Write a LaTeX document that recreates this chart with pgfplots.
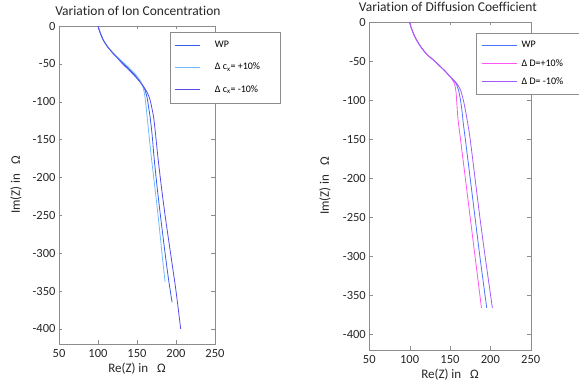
\documentclass[border=0pt]{standalone}
\usepackage{fontspec}
\setmainfont{Carlito}[Ligatures={NoCommon}]
\usepackage{pgfplots}
\pgfplotsset{compat=1.18}
\definecolor{lwp}{RGB}{55,95,235}
\definecolor{lp}{RGB}{115,185,255}
\definecolor{lm}{RGB}{85,75,235}
\definecolor{rwp}{RGB}{80,115,255}
\definecolor{rp}{RGB}{255,85,245}
\definecolor{rm}{RGB}{165,90,250}
\definecolor{axgray}{RGB}{140,140,140}
\definecolor{txt}{RGB}{38,38,38}
\pgfplotsset{
  mystyle/.style={
    scale only axis,
    xmin=50, xmax=250, ymin=-420, ymax=0,
    xtick={50,100,150,200,250},
    ytick={-400,-350,-300,-250,-200,-150,-100,-50,0},
    axis line style={draw=axgray},
    tick style={draw=axgray},
    major tick length=3.5pt,
    tick align=inside,
    xtick pos=both, ytick pos=both,
    ticklabel style={font=\fontsize{12.5}{13}\selectfont, text=txt},
    xticklabel style={yshift=-2pt},
    /pgf/number format/assume math mode=true,
    label style={font=\fontsize{13}{14}\selectfont, text=txt},
    every axis title shift=0pt,
    title style={font=\fontsize{13.5}{14}\selectfont, text=txt, yshift=0pt},
    every axis plot/.append style={line width=0.8pt},
    legend cell align=left,
  }
}
\begin{document}
\begin{tikzpicture}[x=1pt,y=1pt]
\useasboundingbox (0,0) rectangle (579,383);
\begin{axis}[mystyle,
  at={(59pt,39pt)}, anchor=south west,
  width=156pt, height=318pt,
  title={Variation of Ion Concentration},
  title style={at={(axis description cs:0.506,1.047)}, anchor=center},
  xlabel={Re(Z) in \ \ Ω},
  xlabel style={at={(axis description cs:0.5,-0.079)}, anchor=center},
  ylabel={Im(Z) in \ \ Ω},
  ylabel style={at={(axis description cs:-0.276,0.5)}, anchor=center},
  legend style={at={(axis description cs:0.7115,0.981)}, anchor=north west,
    draw=axgray, fill=white, font=\fontsize{10}{11}\selectfont,
    row sep=10pt, column sep=12pt, inner xsep=4.7pt, inner ysep=7pt,
    nodes={inner xsep=2pt}},
  legend image post style={xscale=1.47, line width=0.9pt},
]
\addplot[color=lwp, smooth] coordinates {(100,0)(101.5,-5)(104,-12)(107,-19)(112,-27)(119.5,-36)(126,-43)(133,-50)(145,-62)(154,-73)(160,-84)(163,-95)(165,-108)(167,-122)(169.5,-145)(172,-175)(175.5,-210)(180,-250)(186,-300)(190.5,-335)(195,-365)};
\addlegendentry{\makebox[59pt][l]{WP}}
\addplot[color=lp, smooth] coordinates {(100,0)(101.5,-5)(104,-12)(107,-19)(112,-27)(120,-36)(127,-43)(134.5,-50)(146.5,-62)(154,-72)(158,-82)(160,-92)(161.5,-105)(163,-120)(165,-140)(168,-170)(172,-205)(177,-250)(182,-300)(186,-338)};
\addlegendentry{\makebox[59pt][l]{Δ c\textsubscript{x}= +10\%}}
\addplot[color=lm, smooth] coordinates {(100,0)(101.5,-5)(104,-12)(107,-19)(112,-27)(119,-36)(125.5,-43)(131.5,-50)(143.5,-62)(153,-73)(161,-84)(166,-95)(169,-108)(171.5,-122)(174,-145)(177,-175)(181,-210)(186,-250)(193,-300)(200,-350)(206,-400)};
\addlegendentry{\makebox[59pt][l]{Δ c\textsubscript{x}= -10\%}}
\end{axis}
\begin{axis}[mystyle,
  at={(369.3pt,33pt)}, anchor=south west,
  width=161.4pt, height=328pt,
  title={Variation of Diffusion Coefficient},
  title style={at={(axis description cs:0.4876,1.046)}, anchor=center},
  xlabel={Re(Z) in \ \ Ω},
  xlabel style={at={(axis description cs:0.5,-0.076)}, anchor=center},
  ylabel={Im(Z) in \ \ Ω},
  ylabel style={at={(axis description cs:-0.274,0.5)}, anchor=center},
  legend style={at={(axis description cs:0.661,0.9656)}, anchor=north west,
    draw=axgray, fill=white, font=\fontsize{10}{11}\selectfont,
    row sep=6pt, column sep=3pt, inner xsep=5.2pt, inner ysep=6pt,
    nodes={inner xsep=1.5pt}},
  legend image post style={xscale=2.04, line width=0.9pt},
]
\addplot[color=rwp, smooth] coordinates {(100,0)(101.5,-6)(104,-13)(107,-20)(112,-29)(118,-37.5)(124,-44)(131,-50)(138,-57)(144,-63)(151,-71)(157,-78)(160.5,-87)(163,-100)(165,-115)(166.5,-130)(169,-150)(175,-200)(181,-250)(187,-300)(195.5,-366)};
\addlegendentry{\makebox[64pt][l]{WP}}
\addplot[color=rp, smooth] coordinates {(100,0)(101.5,-6)(104,-13)(107,-20)(112,-29)(118,-37.5)(124,-44)(131,-50)(138,-57)(144,-63)(151,-71)(155.5,-79)(157.5,-90)(158.5,-105)(160,-125)(163,-150)(169,-200)(175,-250)(181,-300)(189,-366)};
\addlegendentry{\makebox[64pt][l]{Δ D=+10\%}}
\addplot[color=rm, smooth] coordinates {(100,0)(101.5,-6)(104,-13)(107,-20)(112,-29)(118,-37.5)(124,-44)(131,-50)(138,-57)(144,-63)(151,-71)(158,-78)(163,-87)(166.5,-100)(169.5,-115)(172,-130)(175,-150)(181,-200)(187,-250)(193.5,-300)(202.5,-366)};
\addlegendentry{\makebox[64pt][l]{Δ D= -10\%}}
\end{axis}
\end{tikzpicture}
\end{document}
